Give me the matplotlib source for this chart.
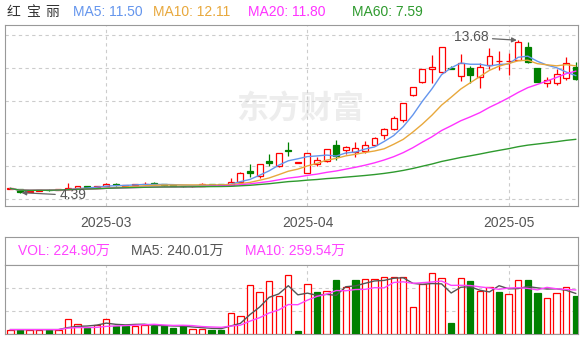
import matplotlib.pyplot as plt
import numpy as np
import pandas as pd

plt.rcParams['font.family'] = ['Liberation Sans', 'Noto Sans CJK SC']

# trading days 2025-02-17 .. 2025-05-15 (exchange holidays removed)
holidays = ['2025-04-04', '2025-05-01', '2025-05-02', '2025-05-05']
dates = pd.bdate_range('2025-02-17', '2025-05-15')
dates = dates[~dates.isin(pd.to_datetime(holidays))]

opens = [4.62, 4.60, 4.45, 4.50, 4.56, 4.53, 4.62, 4.69, 4.78, 4.74,
         4.78, 4.92, 4.82, 4.85, 4.90, 4.98, 4.90, 4.85, 4.80, 4.76,
         4.82, 4.92, 4.88, 4.88, 5.05, 5.72, 5.40, 6.30, 6.00, 7.00,
         6.21, 5.59, 6.15, 6.30, 7.30, 7.00, 6.85, 6.95, 7.30, 7.90,
         8.25, 8.80, 10.35, 11.15, 11.95, 11.75, 11.95, 11.50, 12.00, 11.45,
         12.18, 12.40, 12.40, 12.50, 13.25, 11.98, 11.08, 11.10, 11.40, 12.05]
highs = [4.66, 4.62, 4.52, 4.56, 4.58, 4.62, 5.00, 4.82, 4.80, 4.82,
         4.95, 4.96, 4.88, 4.92, 5.05, 5.02, 4.92, 4.87, 4.82, 4.82,
         4.96, 4.94, 4.90, 5.30, 5.62, 6.12, 6.16, 6.75, 6.82, 7.45,
         6.21, 6.83, 6.55, 7.04, 7.60, 7.20, 7.45, 7.55, 7.80, 8.35,
         9.05, 9.85, 10.84, 11.92, 12.80, 13.26, 12.10, 12.85, 12.10, 12.30,
         13.20, 13.05, 12.90, 13.68, 13.55, 12.00, 11.45, 11.92, 12.65, 12.35]
lows = [4.58, 4.39, 4.44, 4.48, 4.50, 4.52, 4.60, 4.66, 4.70, 4.72,
        4.76, 4.82, 4.80, 4.83, 4.86, 4.88, 4.82, 4.78, 4.74, 4.74,
        4.80, 4.86, 4.84, 4.86, 5.00, 5.34, 5.30, 6.00, 5.95, 6.60,
        6.21, 5.59, 5.98, 6.25, 6.40, 6.75, 6.55, 6.82, 7.20, 7.65,
        8.20, 8.70, 10.30, 11.10, 11.05, 11.70, 11.93, 11.20, 11.05, 10.77,
        11.90, 11.87, 11.56, 12.45, 12.30, 11.12, 10.85, 10.95, 11.28, 11.26]
closes = [4.64, 4.43, 4.50, 4.55, 4.53, 4.60, 4.68, 4.79, 4.74, 4.78,
          4.90, 4.86, 4.85, 4.90, 4.92, 4.90, 4.85, 4.80, 4.77, 4.80,
          4.92, 4.88, 4.86, 5.05, 5.56, 5.60, 6.16, 6.20, 6.78, 6.90,
          6.21, 6.83, 6.40, 7.04, 6.60, 7.15, 7.12, 7.30, 7.70, 8.25,
          8.95, 9.85, 10.84, 11.92, 12.05, 13.25, 11.93, 12.30, 11.55, 12.05,
          12.70, 12.42, 12.44, 13.60, 12.38, 11.15, 11.25, 11.65, 12.28, 11.30]
# volume, 万股
volumes = [26, 26, 26, 26, 26, 26, 86, 62, 36, 52,
           86, 50, 46, 50, 56, 50, 46, 36, 46, 30,
           30, 26, 26, 126, 106, 290, 246, 316, 226, 350,
           20, 296, 250, 256, 320, 276, 320, 326, 326, 336,
           340, 336, 160, 296, 360, 330, 66, 330, 312, 256,
           280, 250, 238, 318, 318, 240, 215, 245, 275, 224.9]

price_legend = ['MA5: 11.50', 'MA10: 12.11', 'MA20: 11.80', 'MA60: 7.59']
vol_legend = ['VOL: 224.90万', 'MA5: 240.01万', 'MA10: 259.54万']

RED = '#ff0000'
GREEN = '#008000'
GRID = '#cccccc'
FRAME = '#999999'
ma_periods = [5, 10, 20, 60]
ma_colors = ['#6495ed', '#e8a83c', '#ff33ff', '#2e9a2e']

W, H = 586, 341
fig = plt.figure(figsize=(W / 100, H / 100), dpi=100)

def box(l, t, r, b):
    return [l / W, 1 - b / H, (r - l) / W, (b - t) / H]

x = np.arange(len(closes))
o, hi, lo, c = map(np.array, (opens, highs, lows, closes))
up = c >= o
x0, x1 = -0.57, 59.24
month_pos = [i for i in range(1, len(dates)) if dates[i].month != dates[i - 1].month]
month_lab = [dates[i].strftime('%Y-%m') for i in month_pos]

# ---- price panel
ax = fig.add_axes(box(5, 25, 578, 206))
ax.set_xlim(x0, x1)
ax.set_ylim(3.57, 14.61)
for s in ax.spines.values():
    s.set_color(FRAME)
ax.set_yticks(np.arange(4, 15, 2))
ax.set_yticklabels([])
ax.tick_params(left=False, bottom=False, labelsize=10, colors='#555555', pad=4)
ax.set_xticks(month_pos)
ax.set_xticklabels(month_lab)
ax.grid(True, color=GRID, ls=(0, (3, 3)), lw=0.8)

# watermark
ax.text(30.2, 9.45, '东方财富', fontsize=23, fontweight='bold', color='#ededed',
        ha='center', va='center', family=['Noto Sans CJK SC'], zorder=0)

ax.vlines(x, lo, hi, colors=np.where(up, RED, GREEN), lw=0.9, zorder=3)
ax.bar(x, np.maximum(np.abs(c - o), 0.04), bottom=np.minimum(o, c), width=0.62,
       color=np.where(up, 'white', GREEN), edgecolor=np.where(up, RED, GREEN),
       lw=0.9, zorder=4)

cs = pd.Series(closes)
for n, col in zip(ma_periods, ma_colors):
    ax.plot(x, cs.rolling(n, min_periods=1).mean(), color=col, lw=1.0, zorder=5)

imax = int(np.argmax(hi))
imin = int(np.argmin(lo))
arrow = dict(arrowstyle='-|>', color='#666666', lw=0.9, mutation_scale=7, shrinkA=1, shrinkB=1)
ax.annotate(f'{hi[imax]:.2f}', xy=(imax, hi[imax]), xytext=(-34, 2), textcoords='offset points',
            ha='center', va='center', fontsize=10, color='#555555', arrowprops=arrow, zorder=6)
ax.annotate(f'{lo[imin]:.2f}', xy=(imin, lo[imin]), xytext=(38, -2), textcoords='offset points',
            ha='center', va='center', fontsize=10, color='#555555', arrowprops=arrow, zorder=6)

# title / legend row
fig.text(7 / W, 1 - 12 / H, '红', fontsize=10, color='#333333', va='center')
fig.text(26 / W, 1 - 12 / H, '宝', fontsize=10, color='#333333', va='center')
fig.text(45 / W, 1 - 12 / H, '丽', fontsize=10, color='#333333', va='center')
for xp, txt, col in zip([73, 153, 248, 352], price_legend, ma_colors):
    fig.text(xp / W, 1 - 12 / H, txt, fontsize=10, color=col, va='center')

# ---- volume panel
axh = fig.add_axes(box(5, 237, 578, 265))
axh.set_xticks([])
axh.set_yticks([])
for s in axh.spines.values():
    s.set_color(FRAME)
for xp, txt, col in zip([18, 131, 245], vol_legend, ['#ff44ff', '#555555', '#ff44ff']):
    axh.text((xp - 5) / 573, 0.5, txt, transform=axh.transAxes,
             fontsize=10, color=col, va='center')

axv = fig.add_axes(box(5, 265, 578, 334))
axv.set_xlim(x0, x1)
vmax = 408
axv.set_ylim(0, vmax)
axv.set_yticks([vmax / 3, vmax * 2 / 3])
axv.set_xticks(month_pos)
axv.set_xticklabels([])
axv.set_yticklabels([])
axv.tick_params(left=False, bottom=False)
axv.grid(True, color=GRID, ls=(0, (3, 3)), lw=0.8)
for s in axv.spines.values():
    s.set_color(FRAME)

prev = np.r_[c[0], c[:-1]]
vup = c >= prev
axv.bar(x, volumes, width=0.66, color=np.where(vup, 'white', GREEN),
        edgecolor=np.where(vup, RED, GREEN), lw=0.9, zorder=3)
vs = pd.Series(volumes)
axv.plot(x, vs.rolling(5, min_periods=1).mean(), color='#555555', lw=1.0, zorder=4)
axv.plot(x, vs.rolling(10, min_periods=1).mean(), color='#ff44ff', lw=1.0, zorder=4)

fig.savefig('out.png', dpi=100)
